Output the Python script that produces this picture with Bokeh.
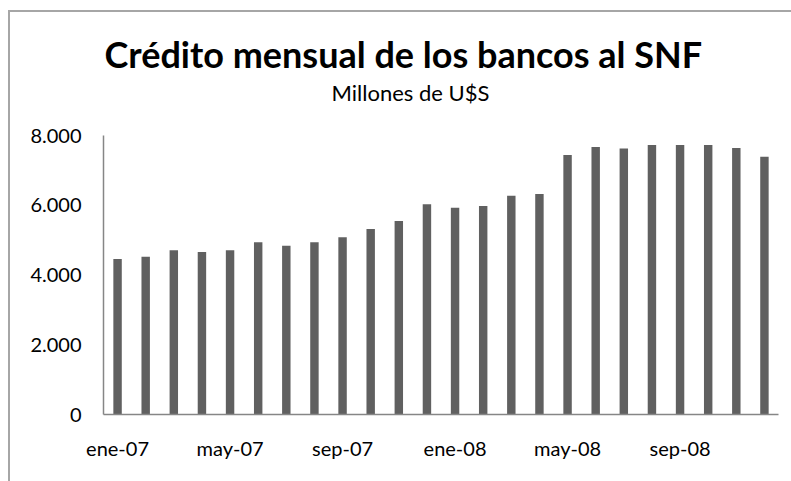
from bokeh.plotting import figure
from bokeh.models import Range1d, FixedTicker, Title
from bokeh.embed import file_html
from bokeh.resources import INLINE

months = ["ene-07", "feb-07", "mar-07", "abr-07", "may-07", "jun-07", "jul-07", "ago-07",
          "sep-07", "oct-07", "nov-07", "dic-07", "ene-08", "feb-08", "mar-08", "abr-08",
          "may-08", "jun-08", "jul-08", "ago-08", "sep-08", "oct-08", "nov-08", "dic-08"]
credito = [4460, 4520, 4710, 4660, 4710, 4940, 4840, 4940, 5080, 5320, 5550, 6030,
           5930, 5980, 6270, 6320, 7440, 7670, 7630, 7730, 7730, 7730, 7640, 7390]
x_tick_idx = [0, 4, 8, 12, 16, 20]
y_ticks = [0, 2000, 4000, 6000, 8000]
y_tick_labels = ["0", "2.000", "4.000", "6.000", "8.000"]

FONT = "Lato"
TXT = "#000000"

xs = list(range(len(months)))

p = figure(width=783, height=471, output_backend="svg", toolbar_location=None,
           x_range=Range1d(-0.5, len(months) - 0.5), y_range=Range1d(0, 8000),
           min_border_left=93, min_border_right=15, min_border_top=123, min_border_bottom=69,
           title=None)
p.styles = {"margin-left": "8px", "margin-top": "10px",
            "border-left": "2px solid #a6a6a6", "border-top": "2px solid #a6a6a6"}

p.vbar(x=xs, top=credito, width=0.3, bottom=0, fill_color="#606060", line_color=None)

spacer = Title(text=" ", align="left", text_font=FONT, text_font_size="1px", standoff=25)
sub = Title(text="Millones de U$S", align="left", offset=228, text_font=FONT,
            text_font_size="22px", text_font_style="normal", text_color=TXT, standoff=3)
main = Title(text="Crédito mensual de los bancos al SNF", align="left", offset=1,
             text_font=FONT, text_font_size="36px", text_font_style="bold", text_color=TXT,
             standoff=0)
p.add_layout(spacer, "above")
p.add_layout(sub, "above")
p.add_layout(main, "above")

p.xgrid.visible = False
p.ygrid.visible = False
p.outline_line_color = None
p.background_fill_color = "white"
p.border_fill_color = "white"

p.xaxis.ticker = FixedTicker(ticks=x_tick_idx)
p.xaxis.major_label_overrides = {i: months[i] for i in x_tick_idx}
p.yaxis.ticker = FixedTicker(ticks=y_ticks)
p.yaxis.major_label_overrides = dict(zip(y_ticks, y_tick_labels))

for ax in (p.xaxis[0], p.yaxis[0]):
    ax.axis_line_color = "#868686"
    ax.axis_line_width = 1.5
    ax.major_tick_line_color = None
    ax.minor_tick_line_color = None
    ax.major_tick_out = 0
    ax.major_tick_in = 0
    ax.major_label_text_font = FONT
    ax.major_label_text_font_size = "20px"
    ax.major_label_text_color = TXT
p.xaxis.major_label_standoff = 21
p.yaxis.major_label_standoff = 22

open("out.html", "w").write(file_html(p, INLINE))
